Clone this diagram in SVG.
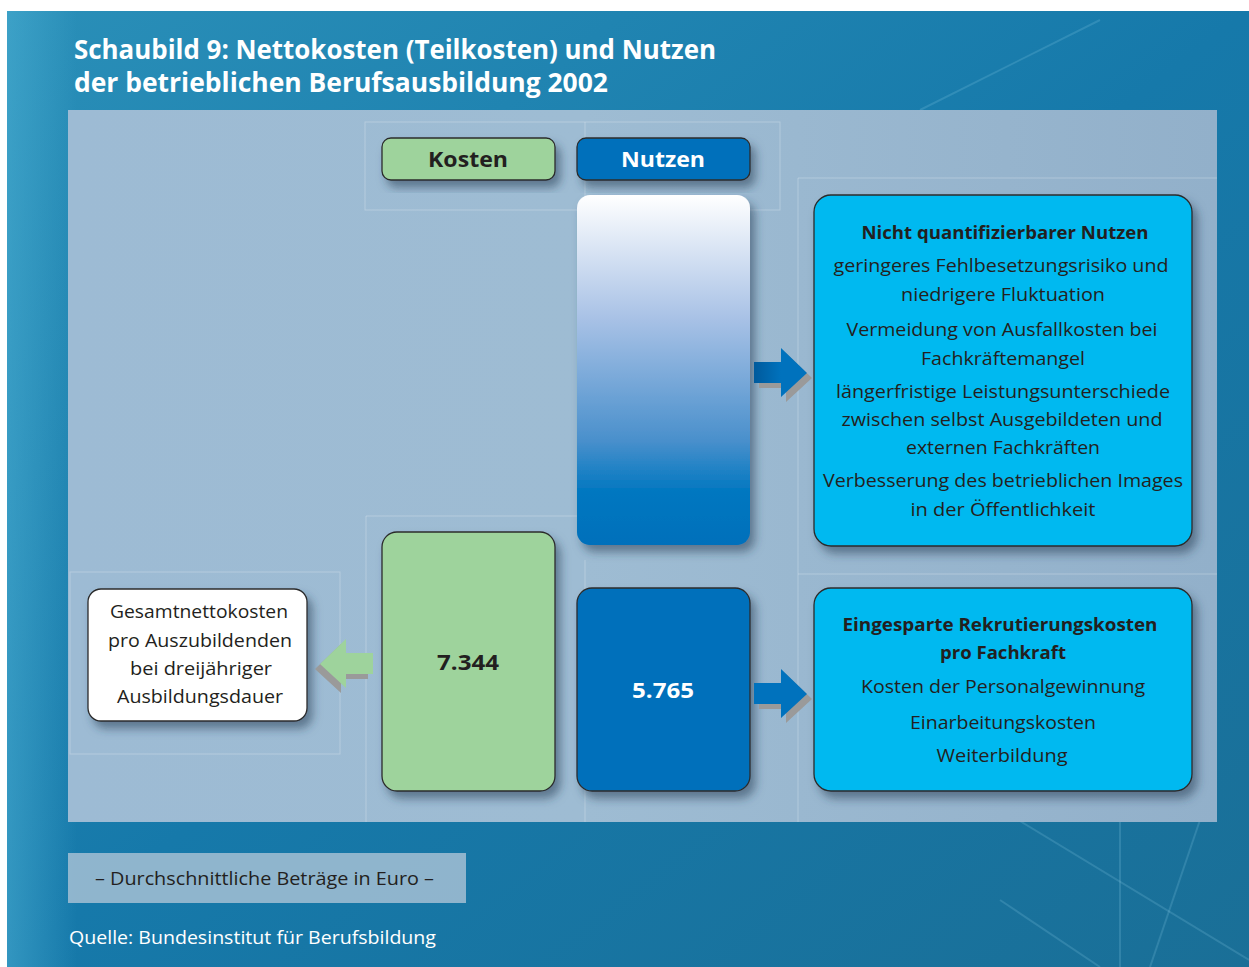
<svg xmlns="http://www.w3.org/2000/svg" width="1249" height="967" viewBox="0 0 1249 967">
  <defs>
    <linearGradient id="bg" x1="0" y1="0" x2="1" y2="1">
      <stop offset="0" stop-color="#2a8fb8"/>
      <stop offset="0.5" stop-color="#1679aa"/>
      <stop offset="1" stop-color="#1a6f97"/>
    </linearGradient>
    <linearGradient id="edge" x1="0" y1="0" x2="1" y2="0">
      <stop offset="0" stop-color="#4fb3d6" stop-opacity="0.5"/>
      <stop offset="1" stop-color="#4fb3d6" stop-opacity="0"/>
    </linearGradient>
    <linearGradient id="panel" x1="0" y1="0" x2="1" y2="0">
      <stop offset="0" stop-color="#9dbbd4"/>
      <stop offset="0.45" stop-color="#9ebcd3"/>
      <stop offset="1" stop-color="#92b0ca"/>
    </linearGradient>
    <linearGradient id="bar" x1="0" y1="0" x2="0" y2="1">
      <stop offset="0" stop-color="#ffffff"/>
      <stop offset="0.35" stop-color="#a9c2e6"/>
      <stop offset="0.7" stop-color="#4a90cc"/>
      <stop offset="0.85" stop-color="#0077c0"/>
      <stop offset="1" stop-color="#0070bb"/>
    </linearGradient>
    <linearGradient id="shaft" x1="0" y1="0" x2="1" y2="0">
      <stop offset="0" stop-color="#005a9c"/>
      <stop offset="1" stop-color="#0072bd"/>
    </linearGradient>
    <filter id="shadow" x="-20%" y="-20%" width="150%" height="150%">
      <feDropShadow dx="5" dy="7" stdDeviation="5" flood-color="#2a3d55" flood-opacity="0.55"/>
    </filter>
    <!-- block arrow pointing right; origin at the top of the head -->
    <path id="arrowR" d="M0 14 H27 V0 L53 25 L27 49 V35 H0 Z"/>
  </defs>
  <style>
    .txt { font-family: "Open Sans", "Noto Sans", "DejaVu Sans", sans-serif; fill: #231f20; }
    .body { font-size: 18px; text-anchor: middle; }
    .bold { font-weight: bold; }
    .white { fill: #ffffff; }
    .title { font-family: "Open Sans", "Noto Sans", sans-serif; font-weight: bold; font-size: 26px; fill: #ffffff; }
    .box { stroke: #2b2b2b; stroke-width: 1.3; filter: url(#shadow); }
    .green { fill: #9ed39c; }
    .blue { fill: #0070bb; }
    .cyan { fill: #00b9f0; }
    .grid { fill: none; stroke: #ffffff; stroke-opacity: 0.25; stroke-width: 1; }
    .deco { fill: none; stroke: #8fd0ea; stroke-opacity: 0.2; stroke-width: 2; }
  </style>

  <!-- page and backdrop -->
  <rect x="0" y="0" width="1249" height="967" fill="#ffffff"/>
  <rect x="7" y="11" width="1242" height="956" fill="url(#bg)"/>
  <rect x="7" y="11" width="70" height="956" fill="url(#edge)"/>
  <g class="deco">
    <line x1="1010" y1="815" x2="1249" y2="960"/>
    <line x1="1200" y1="820" x2="1150" y2="967"/>
    <line x1="1000" y1="900" x2="1100" y2="967"/>
    <line x1="1120" y1="820" x2="1120" y2="967"/>
    <line x1="920" y1="110" x2="1100" y2="20"/>
  </g>

  <!-- title -->
  <text class="title" x="74" y="59" textLength="642" lengthAdjust="spacingAndGlyphs">Schaubild 9: Nettokosten (Teilkosten) und Nutzen</text>
  <text class="title" x="74" y="92" textLength="534" lengthAdjust="spacingAndGlyphs">der betrieblichen Berufsausbildung 2002</text>

  <!-- main panel -->
  <rect x="68" y="110" width="1149" height="712" fill="url(#panel)"/>
  <g class="grid">
    <rect x="365" y="122" width="415" height="88"/>
    <line x1="585" y1="122" x2="585" y2="210"/>
    <line x1="798" y1="178" x2="1217" y2="178"/>
    <line x1="798" y1="178" x2="798" y2="822"/>
    <rect x="70" y="572" width="270" height="182"/>
    <line x1="366" y1="516" x2="366" y2="822"/>
    <line x1="366" y1="516" x2="585" y2="516"/>
    <line x1="585" y1="560" x2="585" y2="822"/>
    <line x1="798" y1="574" x2="1217" y2="574"/>
  </g>

  <!-- column headers -->
  <g id="header-kosten">
    <rect class="box green" x="382" y="138" width="173" height="42" rx="9"/>
    <text class="txt bold" x="468" y="167" font-size="22" text-anchor="middle" textLength="80" lengthAdjust="spacingAndGlyphs">Kosten</text>
  </g>
  <g id="header-nutzen">
    <rect class="box blue" x="577" y="138" width="173" height="42" rx="9"/>
    <text class="txt bold white" x="663" y="167" font-size="22" text-anchor="middle" textLength="84" lengthAdjust="spacingAndGlyphs">Nutzen</text>
  </g>

  <!-- non-quantifiable benefit bar -->
  <g id="bar-nutzen-nq">
    <rect x="577" y="195" width="173" height="350" rx="13" fill="url(#bar)" filter="url(#shadow)"/>
  </g>

  <!-- cost value -->
  <g id="value-kosten">
    <rect class="box green" x="382" y="532" width="173" height="259" rx="15"/>
    <text class="txt bold" x="468" y="670" font-size="22" text-anchor="middle" textLength="62" lengthAdjust="spacingAndGlyphs">7.344</text>
  </g>

  <!-- benefit value -->
  <g id="value-nutzen">
    <rect class="box blue" x="577" y="588" width="173" height="203" rx="15"/>
    <text class="txt bold white" x="663" y="698" font-size="22" text-anchor="middle" textLength="62" lengthAdjust="spacingAndGlyphs">5.765</text>
  </g>

  <!-- note: total net costs -->
  <g id="note-gesamt">
    <rect class="box" x="88" y="589" width="219" height="132" rx="13" fill="#ffffff"/>
    <text class="txt body" x="199" y="618" textLength="178" lengthAdjust="spacingAndGlyphs">Gesamtnettokosten</text>
    <text class="txt body" x="200" y="647" textLength="184" lengthAdjust="spacingAndGlyphs">pro Auszubildenden</text>
    <text class="txt body" x="201" y="675" textLength="142" lengthAdjust="spacingAndGlyphs">bei dreijähriger</text>
    <text class="txt body" x="200" y="703" textLength="166" lengthAdjust="spacingAndGlyphs">Ausbildungsdauer</text>
  </g>

  <!-- box: non-quantifiable benefit -->
  <g id="box-nicht-quantifizierbar">
    <rect class="box cyan" x="814" y="195" width="378" height="351" rx="17"/>
    <text class="txt body bold" x="1005" y="239" textLength="287" lengthAdjust="spacingAndGlyphs">Nicht quantifizierbarer Nutzen</text>
    <text class="txt body" x="1001" y="272" textLength="335" lengthAdjust="spacingAndGlyphs">geringeres Fehlbesetzungsrisiko und</text>
    <text class="txt body" x="1003" y="301" textLength="204" lengthAdjust="spacingAndGlyphs">niedrigere Fluktuation</text>
    <text class="txt body" x="1002" y="336" textLength="311" lengthAdjust="spacingAndGlyphs">Vermeidung von Ausfallkosten bei</text>
    <text class="txt body" x="1003" y="365" textLength="164" lengthAdjust="spacingAndGlyphs">Fachkräftemangel</text>
    <text class="txt body" x="1003" y="398" textLength="334" lengthAdjust="spacingAndGlyphs">längerfristige Leistungsunterschiede</text>
    <text class="txt body" x="1002" y="426" textLength="321" lengthAdjust="spacingAndGlyphs">zwischen selbst Ausgebildeten und</text>
    <text class="txt body" x="1003" y="454" textLength="194" lengthAdjust="spacingAndGlyphs">externen Fachkräften</text>
    <text class="txt body" x="1003" y="487" textLength="360" lengthAdjust="spacingAndGlyphs">Verbesserung des betrieblichen Images</text>
    <text class="txt body" x="1003" y="516" textLength="185" lengthAdjust="spacingAndGlyphs">in der Öffentlichkeit</text>
  </g>

  <!-- box: saved recruitment costs -->
  <g id="box-rekrutierung">
    <rect class="box cyan" x="814" y="588" width="378" height="203" rx="17"/>
    <text class="txt body bold" x="1000" y="631" textLength="315" lengthAdjust="spacingAndGlyphs">Eingesparte Rekrutierungskosten</text>
    <text class="txt body bold" x="1003" y="659" textLength="126" lengthAdjust="spacingAndGlyphs">pro Fachkraft</text>
    <text class="txt body" x="1003" y="693" textLength="284" lengthAdjust="spacingAndGlyphs">Kosten der Personalgewinnung</text>
    <text class="txt body" x="1003" y="729" textLength="186" lengthAdjust="spacingAndGlyphs">Einarbeitungskosten</text>
    <text class="txt body" x="1002" y="762" textLength="131" lengthAdjust="spacingAndGlyphs">Weiterbildung</text>
  </g>

  <!-- connectors -->
  <g id="connectors">
    <!-- bar to non-quantifiable box -->
    <use href="#arrowR" transform="translate(759 353)" fill="#9a9a9a"/>
    <use href="#arrowR" transform="translate(754 348)" fill="#0072bd"/>
    <rect x="754" y="362" width="27" height="21" fill="url(#shaft)"/>
    <!-- benefit value to recruitment box -->
    <use href="#arrowR" transform="translate(759 674)" fill="#9a9a9a"/>
    <use href="#arrowR" transform="translate(754 669)" fill="#0072bd"/>
    <!-- cost value to total net costs note -->
    <use href="#arrowR" transform="translate(368 644) scale(-1 1)" fill="#9a9a9a"/>
    <use href="#arrowR" transform="translate(373 639) scale(-1 1)" fill="#9ed39c"/>
  </g>

  <!-- footer -->
  <rect x="68" y="853" width="398" height="50" fill="#a4bfd3" opacity="0.85"/>
  <text class="txt" x="95" y="885" font-size="18" textLength="339" lengthAdjust="spacingAndGlyphs">– Durchschnittliche Beträge in Euro –</text>
  <text class="txt white" x="69" y="944" font-size="18" textLength="367" lengthAdjust="spacingAndGlyphs">Quelle: Bundesinstitut für Berufsbildung</text>
</svg>
